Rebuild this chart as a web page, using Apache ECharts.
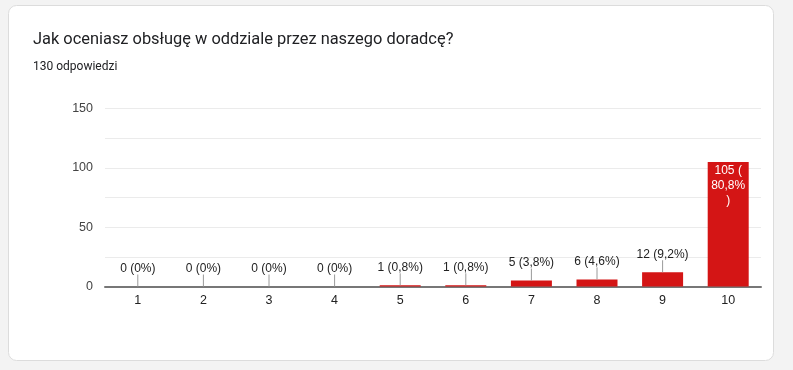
<!DOCTYPE html>
<html><head><meta charset="utf-8">
<script src="https://cdn.jsdelivr.net/npm/echarts@6/dist/echarts.min.js"></script>
<style>html,body{margin:0;padding:0;background:#f3f3f3;}#c{width:793px;height:370px;}</style>
</head><body><div id="c"></div>
<script>
const title = 'Jak oceniasz obsługę w oddziale przez naszego doradcę?';
const subtitle = '130 odpowiedzi';
const categories = ['1','2','3','4','5','6','7','8','9','10'];
const values = [0,0,0,0,1,1,5,6,12,105];
const labels = ['0 (0%)','0 (0%)','0 (0%)','0 (0%)','1 (0,8%)','1 (0,8%)','5 (3,8%)','6 (4,6%)','12 (9,2%)','105 (\n80,8%\n)'];
const yMax = 150, yStep = 25, yLabelStep = 50;

const chart = echarts.init(document.getElementById('c'), null, {renderer:'canvas'});
chart.setOption({
  backgroundColor: 'transparent',
  animation: false,
  graphic: [
    {type:'rect', z:-10, shape:{x:8.5, y:5.5, width:765, height:355, r:8}, style:{fill:'#ffffff', stroke:'#dcdcdc', lineWidth:1}},
    {type:'text', left:33, top:32, style:{text:title, fill:'#202124', font:'16.4px Roboto'}},
    {type:'text', left:33, top:61, style:{text:subtitle, fill:'#202124', font:'12px Roboto'}}
  ],
  grid: {left:105, right:32, top:108.5, bottom:83.5},
  xAxis: {
    type:'category', data:categories,
    axisTick:{show:false},
    axisLine:{lineStyle:{color:'#777', width:2}},
    axisLabel:{color:'#222', fontSize:12.5, fontFamily:'Arial', margin:8}
  },
  yAxis: {
    type:'value', min:0, max:yMax, interval:yStep,
    axisLine:{show:false}, axisTick:{show:false},
    splitLine:{lineStyle:{color:'#ebebeb', width:1}},
    axisLabel:{color:'#444', fontSize:12.5, fontFamily:'Arial', margin:12,
      formatter: v => (v % yLabelStep === 0 ? String(v) : '')}
  },
  series: [
    {type:'bar', data:values, barWidth:41, itemStyle:{color:'#d41515'}, z:2},
    {type:'custom', z:5,
      data: values.map((v,i)=>[i,v]),
      encode:{x:0,y:1},
      renderItem: function(params, api){
        const i = params.dataIndex;
        const v = api.value(1);
        const p = api.coord([api.value(0), v]);
        if (v > yMax*0.5) {
          return {type:'text', style:{text:labels[i], x:p[0], y:p[1]+1, align:'center', verticalAlign:'top', fill:'#ffffff', font:'12px Arial', lineHeight:15}};
        }
        return {type:'group', children:[
          {type:'line', shape:{x1:p[0], y1:p[1], x2:p[0], y2:p[1]-12}, style:{stroke:'#9a9a9a', lineWidth:1}},
          {type:'text', style:{text:labels[i], x:p[0], y:p[1]-18, align:'center', verticalAlign:'middle', fill:'#222', font:'12px Arial'}}
        ]};
      }
    }
  ]
});
</script></body></html>
